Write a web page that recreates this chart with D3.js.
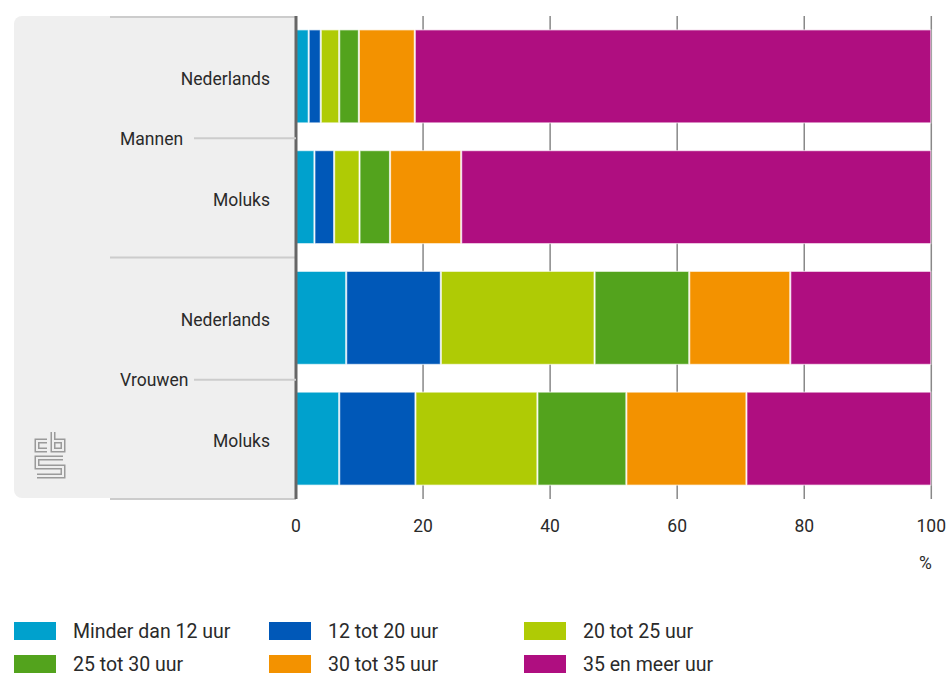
<!DOCTYPE html>
<html lang='nl'>
<head>
  <meta charset='UTF-8'>
  <title>Arbeidsduur</title>
  <style>
    body { margin: 0; background: #fff; }
    svg text { font-family: Roboto, 'Noto Sans', sans-serif; fill: #2a2a2a; }
  </style>
</head>
<body>
<div id='chart'></div>
<script src='https://d3js.org/d3.v7.min.js'></script>
<script>
  // data
  var groups = ['Mannen', 'Vrouwen']
  var origins = ['Nederlands', 'Moluks']
  var rows = ['Mannen|Nederlands', 'Mannen|Moluks', 'Vrouwen|Nederlands', 'Vrouwen|Moluks']
  var classes = ['Minder dan 12 uur', '12 tot 20 uur', '20 tot 25 uur', '25 tot 30 uur', '30 tot 35 uur', '35 en meer uur']
  var colors = ['#00a1cd', '#0058b8', '#afcb05', '#53a31d', '#f39200', '#af0e80']
  var minder12 = [2.0, 2.9, 7.9, 6.8]
  var uur12_20 = [1.9, 3.1, 14.9, 12.0]
  var uur20_25 = [2.9, 4.0, 24.2, 19.2]
  var uur25_30 = [3.1, 4.8, 14.9, 14.0]
  var uur30_35 = [8.8, 11.2, 15.9, 18.9]
  var uur35plus = [81.3, 74.0, 22.2, 29.1]
  var xTicks = [0, 20, 40, 60, 80, 100]

  var series = [minder12, uur12_20, uur20_25, uur25_30, uur30_35, uur35plus]
  var table = rows.map(function (r, i) {
    var o = { row: r }
    classes.forEach(function (c, k) { o[c] = series[k][i] })
    return o
  })

  var W = 948, H = 673
  var svg = d3.select('#chart').append('svg').attr('width', W).attr('height', H)

  var plotTop = 16, plotBottom = 499, axisX = 296
  var x = d3.scaleLinear().domain([0, 100]).range([axisX, 931.3])
  var y = d3.scaleBand().domain(rows).range([plotTop, plotBottom]).paddingInner(0.23).paddingOuter(0.115)
  var color = d3.scaleOrdinal().domain(classes).range(colors)

  // grijs label-paneel
  svg.append('path')
    .attr('d', 'M' + axisX + ',' + plotTop + 'H22a8,8 0 0 0 -8,8V' + (plotBottom - 9) + 'a8,8 0 0 0 8,8H' + axisX + 'Z')
    .style('fill', '#efefef')

  // lijnen in het paneel
  var lineX0 = 110
  var groupEdges = [plotTop + 1, (y(rows[1]) + y.bandwidth() + y(rows[2])) / 2, plotBottom]
  groupEdges.forEach(function (ey) {
    svg.append('line').attr('x1', lineX0).attr('x2', axisX).attr('y1', ey).attr('y2', ey)
      .style('stroke', '#cccccc').style('stroke-width', 2)
  })

  // rasterlijnen
  svg.append('g').selectAll('line').data(xTicks.slice(1)).join('line')
    .attr('x1', function (d) { return x(d) }).attr('x2', function (d) { return x(d) })
    .attr('y1', plotTop).attr('y2', plotBottom)
    .style('stroke', '#888').style('stroke-width', 1.5)

  // gestapelde balken
  var stack = d3.stack().keys(classes)(table)
  svg.append('g').selectAll('g').data(stack).join('g')
    .style('fill', function (d) { return color(d.key) })
    .selectAll('rect').data(function (d) { return d }).join('rect')
    .attr('x', function (d) { return x(d[0]) + 0.5 })
    .attr('width', function (d) { return Math.max(0, x(d[1]) - x(d[0]) - 1) })
    .attr('y', function (d) { return y(d.data.row) })
    .attr('height', y.bandwidth())
    .style('stroke', '#fff').style('stroke-width', 1.2).style('stroke-opacity', 0.6)

  // as-lijn
  svg.append('line').attr('x1', axisX).attr('x2', axisX).attr('y1', plotTop).attr('y2', plotBottom)
    .style('stroke', '#666').style('stroke-width', 3)

  // categorielabels
  svg.append('g').selectAll('text').data(rows).join('text')
    .attr('x', 270)
    .attr('y', function (d) { return y(d) + y.bandwidth() / 2 + 8.5 })
    .attr('text-anchor', 'end')
    .style('font-size', '17.5px')
    .text(function (d) { return d.split('|')[1] })

  // groepslabels
  groups.forEach(function (g, i) {
    var r1 = y(rows[i * 2]), r2 = y(rows[i * 2 + 1]) + y.bandwidth()
    var cy = (r1 + r2) / 2 + 1.5
    svg.append('text').attr('x', 120).attr('y', cy + 6.5).style('font-size', '17.5px').text(g)
    svg.append('line').attr('x1', 194).attr('x2', axisX).attr('y1', cy).attr('y2', cy)
      .style('stroke', '#cccccc').style('stroke-width', 2)
  })

  // x-as labels
  svg.append('g').selectAll('text').data(xTicks).join('text')
    .attr('x', function (d) { return x(d) })
    .attr('y', 532)
    .attr('text-anchor', 'middle')
    .style('font-size', '17.5px')
    .text(function (d) { return d })
  svg.append('text').attr('x', x(100) - 6).attr('y', 569).attr('text-anchor', 'middle')
    .style('font-size', '17.5px').text('%')

  // cbs logo
  var logo = 'M47,441H37V450H47M53,432V450H63V441H53M63,458H37V467H63V476H37'
  svg.append('path').attr('d', logo).style('fill', 'none').style('stroke', '#9a9a9a')
    .style('stroke-width', 5).style('stroke-linejoin', 'miter')
  svg.append('path').attr('d', logo).style('fill', 'none').style('stroke', '#efefef')
    .style('stroke-width', 2).style('stroke-linejoin', 'miter')

  // legenda
  var legCols = [14, 269, 524], legRows = [622, 655]
  var leg = svg.append('g').selectAll('g').data(classes).join('g')
    .attr('transform', function (d, i) { return 'translate(' + legCols[i % 3] + ',' + legRows[Math.floor(i / 3)] + ')' })
  leg.append('rect').attr('width', 42).attr('height', 18).style('fill', function (d) { return color(d) })
  leg.append('text').attr('x', 59).attr('y', 16).style('font-size', '19.5px').text(function (d) { return d })
</script>
</body>
</html>
